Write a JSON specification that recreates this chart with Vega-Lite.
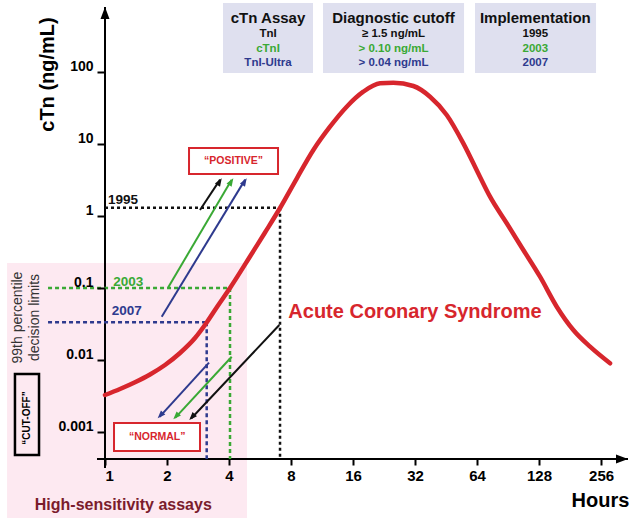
{
  "$schema": "https://vega.github.io/schema/vega-lite/v6.json",
  "width": 523,
  "height": 452,
  "autosize": {"type": "none"},
  "padding": {"left": 105, "top": 7, "right": 5, "bottom": 64},
  "background": "white",
  "config": {"view": {"stroke": null}, "font": "Liberation Sans"},
  "encoding": {
    "x": {
      "field": "h", "type": "quantitative",
      "scale": {"type": "log", "base": 2, "domain": [1, 346], "nice": false},
      "axis": {
        "values": [1, 2, 4, 8, 16, 32, 64, 128, 256], "format": "d",
        "domain": false, "grid": false, "ticks": true, "tickColor": "black", "tickWidth": 2, "tickSize": 6,
        "labelFont": "Liberation Sans", "labelFontSize": 15, "labelFontWeight": "bold", "labelColor": "black", "labelPadding": 3,
        "title": "Hours", "titleFont": "Liberation Sans", "titleFontSize": 20, "titleFontWeight": "bold", "titleColor": "black",
        "titleX": 495, "titleY": 41, "titleAlign": "center", "titleBaseline": "middle", "zindex": 1
      }
    },
    "y": {
      "field": "c", "type": "quantitative",
      "scale": {"type": "log", "domain": [0.0004217, 799.6], "nice": false},
      "axis": {
        "values": [0.001, 0.01, 0.1, 1, 10, 100], "format": "~g",
        "domain": false, "grid": false, "ticks": true, "tickColor": "black", "tickWidth": 2, "tickSize": 8,
        "labelFont": "Liberation Sans", "labelFontSize": 14, "labelFontWeight": "bold", "labelColor": "black", "labelPadding": 4,
        "labelBaseline": "alphabetic", "labelOffset": -2,
        "title": "cTn (ng/mL)", "titleFont": "Liberation Sans", "titleFontSize": 20, "titleFontWeight": "bold", "titleColor": "black",
        "titleX": -58, "titleY": 67, "titleAngle": 270, "titleAlign": "center", "titleBaseline": "middle", "zindex": 1
      }
    }
  },
  "layer": [
    {
      "data": {"values": [{"h": 0.3346, "h2": 4.892, "c": 0.2225, "c2": 0.0000639}]},
      "mark": {"type": "rect", "fill": "#fde9f1"},
      "encoding": {"x2": {"field": "h2"}, "y2": {"field": "c2"}}
    },
    {
      "data": {"values": [
        {"h": 3.74, "h2": 10.23, "c": 908.6, "c2": 96.9},
        {"h": 11.44, "h2": 55.34, "c": 908.6, "c2": 96.9},
        {"h": 62.58, "h2": 242.1, "c": 908.6, "c2": 96.9}
      ]},
      "mark": {"type": "rect", "fill": "#dfe0ef"},
      "encoding": {"x2": {"field": "h2"}, "y2": {"field": "c2"}}
    },
    {
      "data": {"values": [
        {"h": 0.9144, "h2": 346, "c": 0.0004217, "c2": 0.0004217},
        {"h": 1, "h2": 1, "c": 0.000316, "c2": 799.6}
      ]},
      "mark": {"type": "rule", "color": "black", "strokeWidth": 2},
      "encoding": {"x2": {"field": "h2"}, "y2": {"field": "c2"}}
    },
    {
      "data": {"values": [
        {"s": "1995", "h": 1, "h2": 7.075, "c": 1.3, "c2": 1.3},
        {"s": "1995", "h": 7.075, "h2": 7.075, "c": 1.3, "c2": 0.0004217},
        {"s": "2003", "h": 0.529, "h2": 4.045, "c": 0.1, "c2": 0.1},
        {"s": "2003", "h": 4.045, "h2": 4.045, "c": 0.1, "c2": 0.0004217},
        {"s": "2007", "h": 0.529, "h2": 3.117, "c": 0.0334, "c2": 0.0334},
        {"s": "2007", "h": 3.117, "h2": 3.117, "c": 0.0334, "c2": 0.0004217}
      ]},
      "mark": {"type": "rule", "strokeWidth": 2.5},
      "encoding": {
        "x2": {"field": "h2"}, "y2": {"field": "c2"},
        "color": {"field": "s", "type": "nominal", "scale": {"domain": ["1995", "2003", "2007"], "range": ["#111111", "#3aa935", "#2e3a8e"]}, "legend": null},
        "strokeDash": {"field": "s", "type": "nominal", "scale": {"domain": ["1995", "2003", "2007"], "range": [[3, 3], [4, 3], [4, 3]]}, "legend": null}
      }
    },
    {
      "data": {"values": [
        {"h": 1, "c": 0.003266}, {"h": 1.1825, "c": 0.003956}, {"h": 1.3984, "c": 0.004909},
        {"h": 1.654, "c": 0.0063}, {"h": 1.9559, "c": 0.008522}, {"h": 2.313, "c": 0.01251},
        {"h": 2.7352, "c": 0.0202}, {"h": 3.117, "c": 0.03318}, {"h": 3.537, "c": 0.05713},
        {"h": 4.045, "c": 0.1}, {"h": 5.058, "c": 0.2738}, {"h": 5.982, "c": 0.59},
        {"h": 7.075, "c": 1.292}, {"h": 8.527, "c": 3.317},
        {"h": 10.27, "c": 8.254}, {"h": 12.37, "c": 17.39}, {"h": 14.91, "c": 32.98},
        {"h": 17.95, "c": 53.25}, {"h": 21.64, "c": 69.67}, {"h": 25.11, "c": 71.0},
        {"h": 31.4, "c": 63.94}, {"h": 37.84, "c": 45.39}, {"h": 45.6, "c": 25.29},
        {"h": 54.91, "c": 10.22}, {"h": 66.18, "c": 3.481}, {"h": 74.01, "c": 1.854},
        {"h": 89.19, "c": 0.7918}, {"h": 107.4, "c": 0.3371}, {"h": 129.4, "c": 0.1435},
        {"h": 156.0, "c": 0.055}, {"h": 187.8, "c": 0.0261}, {"h": 226.4, "c": 0.0153},
        {"h": 283.1, "c": 0.008997}
      ]},
      "mark": {"type": "line", "color": "#d7262d", "strokeWidth": 4.5, "interpolate": "monotone", "strokeCap": "round"}
    },
    {
      "data": {"values": [
        {"s": "1995", "h": 2.892, "c": 1.212, "h2": 3.62, "c2": 3.2},
        {"s": "2003", "h": 2.029, "c": 0.1022, "h2": 4.12, "c2": 3.2},
        {"s": "2007", "h": 1.885, "c": 0.03995, "h2": 4.79, "c2": 3.2},
        {"s": "2007", "h": 3.198, "c": 0.009174, "h2": 1.84, "c2": 0.00162},
        {"s": "2003", "h": 4.122, "c": 0.01111, "h2": 2.19, "c2": 0.00157},
        {"s": "1995", "h": 7.019, "c": 0.03063, "h2": 2.62, "c2": 0.00154}
      ]},
      "mark": {"type": "rule", "strokeWidth": 2},
      "encoding": {
        "x2": {"field": "h2"}, "y2": {"field": "c2"},
        "color": {"field": "s", "type": "nominal", "legend": null}
      }
    },
    {
      "data": {"values": [
        {"s": "1995", "h": 3.687, "c": 3.34},
        {"s": "2003", "h": 4.197, "c": 3.34},
        {"s": "2007", "h": 4.875, "c": 3.34}
      ]},
      "mark": {"type": "point", "filled": true, "opacity": 1, "shape": "M0,0L-0.75,2L0.75,2Z", "size": 64, "angle": 32},
      "encoding": {"color": {"field": "s", "type": "nominal", "legend": null}}
    },
    {
      "data": {"values": [
        {"s": "2007", "h": 1.802, "c": 0.001549},
        {"s": "2003", "h": 2.146, "c": 0.001501},
        {"s": "1995", "h": 2.566, "c": 0.001468}
      ]},
      "mark": {"type": "point", "filled": true, "opacity": 1, "shape": "M0,0L-0.75,2L0.75,2Z", "size": 64, "angle": 223},
      "encoding": {"color": {"field": "s", "type": "nominal", "legend": null}}
    },
    {
      "data": {"values": [{"h": 346, "c": 0.0004217}]},
      "mark": {"type": "point", "filled": true, "opacity": 1, "color": "black", "shape": "M0,0L-0.75,2L0.75,2Z", "size": 144, "angle": 90}
    },
    {
      "data": {"values": [{"h": 1, "c": 799.6}]},
      "mark": {"type": "point", "filled": true, "opacity": 1, "color": "black", "shape": "M0,0L-0.75,2L0.75,2Z", "size": 144, "angle": 0}
    },
    {
      "data": {"values": [
        {"h": 2.558, "h2": 6.918, "c": 3.831, "c2": 8.8},
        {"h": 1.106, "h2": 2.892, "c": 0.001334, "c2": 0.000545}
      ]},
      "mark": {"type": "rect", "fill": "white", "stroke": "#d7262d", "strokeWidth": 2},
      "encoding": {"x2": {"field": "h2"}, "y2": {"field": "c2"}}
    },
    {
      "data": {"values": [{"h": 0.3655, "h2": 0.4783, "c": 0.00639, "c2": 0.000479}]},
      "mark": {"type": "rect", "fillOpacity": 0, "stroke": "black", "strokeWidth": 2.5},
      "encoding": {"x2": {"field": "h2"}, "y2": {"field": "c2"}}
    },
    {
      "data": {"values": [
        {"t": "“POSITIVE”", "h": 4.207, "c": 5.807},
        {"t": "“NORMAL”", "h": 1.792, "c": 0.000847}
      ]},
      "mark": {"type": "text", "font": "Liberation Sans", "fontSize": 10.5, "fontWeight": "bold", "color": "#d7262d", "align": "center", "baseline": "middle"},
      "encoding": {"text": {"field": "t"}}
    },
    {
      "data": {"values": [{"t": "“CUT-OFF”", "h": 0.418, "c": 0.001565}]},
      "mark": {"type": "text", "font": "Liberation Sans", "fontSize": 10, "fontWeight": "bold", "color": "black", "align": "center", "baseline": "middle", "angle": 270},
      "encoding": {"text": {"field": "t"}}
    },
    {
      "data": {"values": [{"t": ["99th percentile", "decision limits"], "h": 0.3787, "c": 0.0389}]},
      "mark": {"type": "text", "font": "Liberation Sans", "fontSize": 14, "color": "#333333", "align": "center", "baseline": "middle", "angle": 270, "lineHeight": 16.5},
      "encoding": {"text": {"field": "t"}}
    },
    {
      "data": {"values": [
        {"s": "1995", "t": "1995", "h": 1.034, "c": 1.468},
        {"s": "2003", "t": "2003", "h": 1.097, "c": 0.1066},
        {"s": "2007", "t": "2007", "h": 1.078, "c": 0.04217}
      ]},
      "mark": {"type": "text", "font": "Liberation Sans", "fontSize": 13.5, "fontWeight": "bold", "align": "left", "baseline": "alphabetic"},
      "encoding": {"text": {"field": "t"}, "color": {"field": "s", "type": "nominal", "legend": null}}
    },
    {
      "data": {"values": [
        {"t": "cTn Assay", "h": 6.186, "c": 562.3},
        {"t": "Diagnostic cutoff", "h": 25.16, "c": 562.3},
        {"t": "Implementation", "h": 122.8, "c": 562.3}
      ]},
      "mark": {"type": "text", "font": "Liberation Sans", "fontSize": 15, "fontWeight": "bold", "color": "#111111", "align": "center", "baseline": "middle"},
      "encoding": {"text": {"field": "t"}}
    },
    {
      "data": {"values": [
        {"s": "1995", "t": "TnI", "h": 6.186, "c": 334},
        {"s": "1995", "t": "≥ 1.5 ng/mL", "h": 25.16, "c": 334},
        {"s": "1995", "t": "1995", "h": 122.8, "c": 334},
        {"s": "2003", "t": "cTnI", "h": 6.186, "c": 206.6},
        {"s": "2003", "t": "> 0.10 ng/mL", "h": 25.16, "c": 206.6},
        {"s": "2003", "t": "2003", "h": 122.8, "c": 206.6},
        {"s": "2007", "t": "TnI-Ultra", "h": 6.186, "c": 132.1},
        {"s": "2007", "t": "> 0.04 ng/mL", "h": 25.16, "c": 132.1},
        {"s": "2007", "t": "2007", "h": 122.8, "c": 132.1}
      ]},
      "mark": {"type": "text", "font": "Liberation Sans", "fontSize": 11.5, "fontWeight": "bold", "align": "center", "baseline": "middle"},
      "encoding": {"text": {"field": "t"}, "color": {"field": "s", "type": "nominal", "legend": null}}
    },
    {
      "data": {"values": [{"t": "Acute Coronary Syndrome", "h": 7.762, "c": 0.0469}]},
      "mark": {"type": "text", "font": "Liberation Sans", "fontSize": 20, "fontWeight": "bold", "color": "#d7262d", "align": "left", "baseline": "middle"},
      "encoding": {"text": {"field": "t"}}
    },
    {
      "data": {"values": [{"t": "High-sensitivity assays", "h": 1.227, "c": 0.0000968}]},
      "mark": {"type": "text", "font": "Liberation Sans", "fontSize": 16, "fontWeight": "bold", "color": "#7b1c2c", "align": "center", "baseline": "middle"},
      "encoding": {"text": {"field": "t"}}
    }
  ]
}
